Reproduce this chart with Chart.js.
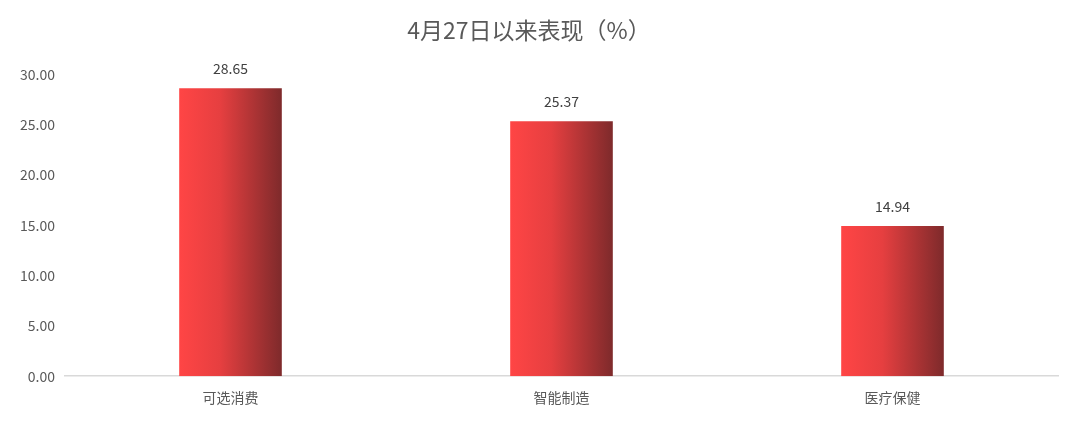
<!DOCTYPE html>
<html><head><meta charset="utf-8">
<script src="https://cdn.jsdelivr.net/npm/chart.js@4/dist/chart.umd.min.js"></script>
<style>html,body{margin:0;padding:0;background:#fff;}#wrap{width:1080px;height:422px;}</style>
</head><body><div id="wrap"><canvas id="c"></canvas></div>
<script>
const categories = ['可选消费', '智能制造', '医疗保健'];
const values = [28.65, 25.37, 14.94];
const yTicks = [0, 5, 10, 15, 20, 25, 30];
const titleText = '4月27日以来表现（%）';
const FONT = '"Noto Sans CJK SC", "Noto Sans", sans-serif';
const BAR_PCT = 0.31;

function barGradient(ctx) {
  const chart = ctx.chart;
  const xs = chart.scales && chart.scales.x;
  if (!xs || ctx.dataIndex === undefined) return '#e04040';
  const cx = xs.getPixelForValue(ctx.dataIndex);
  const w = xs.width / categories.length * BAR_PCT;
  if (!isFinite(cx) || !isFinite(w) || w <= 0) return '#e04040';
  const g = chart.ctx.createLinearGradient(cx - w / 2, 0, cx + w / 2, 0);
  g.addColorStop(0, '#ff4545');
  g.addColorStop(0.4, '#e63f40');
  g.addColorStop(1, '#7e2a2b');
  return g;
}

const labelPlugin = {
  id: 'vals',
  afterDatasetsDraw(chart) {
    const c = chart.ctx;
    const meta = chart.getDatasetMeta(0);
    c.save();
    c.font = '14px ' + FONT;
    c.fillStyle = '#404040';
    c.textAlign = 'center';
    c.textBaseline = 'bottom';
    meta.data.forEach((el, i) => {
      c.fillText(values[i].toFixed(2), el.x, el.y - 12);
    });
    c.restore();
  }
};

new Chart(document.getElementById('c'), {
  type: 'bar',
  data: {
    labels: categories,
    datasets: [{ data: values, backgroundColor: barGradient, borderWidth: 0,
      barPercentage: BAR_PCT, categoryPercentage: 1 }]
  },
  options: {
    responsive: true, maintainAspectRatio: false, animation: false,
    layout: { padding: { top: 8, right: 22, left: 0, bottom: 3 } },
    plugins: {
      legend: { display: false }, tooltip: { enabled: false },
      title: { display: true, text: titleText, color: '#595959',
        font: { family: FONT, size: 23, weight: 'normal' }, padding: { top: 8, bottom: 31 } }
    },
    scales: {
      x: {
        grid: { display: false, drawTicks: false },
        border: { color: '#d9d9d9', width: 1.5 },
        ticks: { color: '#595959', font: { family: FONT, size: 14 }, padding: 13 }
      },
      y: {
        min: 0, max: 30,
        afterBuildTicks(s) { s.ticks = yTicks.map(v => ({ value: v })); },
        afterFit(s) { s.width = 65; },
        grid: { display: false, drawTicks: false },
        border: { display: false },
        ticks: { color: '#595959', font: { family: FONT, size: 14 }, padding: 10,
          callback: v => Number(v).toFixed(2) }
      }
    }
  },
  plugins: [labelPlugin]
});
</script></body></html>
